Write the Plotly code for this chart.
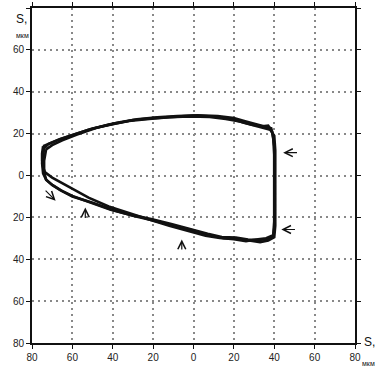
import plotly.graph_objects as go

# Loop traces (S_x, S_y in мкм), three overlapping cycles
loop_a_x = [-74, -72, -66, -60, -50, -40, -30, -20, -10, 0, 10, 18, 25, 30, 35, 38, 40, 40.5, 40.5, 40.5, 40.5, 40, 37, 33, 28, 22, 15, 8, 0, -10, -20, -30, -40, -50, -60, -65, -70, -73, -74.5, -75, -74.5, -74]
loop_a_y = [13, 15, 17.5, 19.5, 22.5, 24.5, 26.5, 27.4, 28, 28.6, 28.2, 27.2, 25.2, 24, 22.8, 21.8, 19, 12, 0, -12, -24, -29.5, -31, -31.8, -31.2, -30.2, -30, -28.5, -26.3, -23.8, -21.5, -19.2, -16.5, -13, -10, -7.5, -4.5, -2, 1, 6, 10, 13]

loop_b_x = [-73, -70, -65, -58, -48, -38, -28, -18, -8, 2, 12, 20, 26, 31, 35.5, 38.5, 39.5, 40, 40, 40, 40, 39.5, 36, 32, 27, 21, 14, 7, -1, -11, -21, -31, -41, -51, -60, -66, -70, -73, -74, -74, -73.5, -73]
loop_b_y = [12.5, 14.5, 16.8, 19.5, 22.8, 25.2, 26.8, 27.8, 28.4, 28.8, 28.4, 27.4, 25.8, 24.4, 23.2, 22.6, 18, 10, -2, -14, -25, -29, -30.4, -30.8, -30.6, -29.6, -29.4, -27.8, -25.6, -23.2, -20.8, -18.8, -16.4, -12.8, -9.8, -7, -4.5, -2, 1.5, 7, 10.5, 12.5]

loop_c_x = [-74.5, -71, -67, -61, -52, -42, -32, -22, -12, -2, 8, 16, 23, 29, 34, 37, 39, 40, 40, 40, 40, 39.5, 36, 31, 26, 20, 13, 6, -2, -12, -22, -32, -42, -52, -60, -66, -70, -73.5, -74.5, -75, -75, -74.5]
loop_c_y = [14, 15.5, 17, 19, 21.8, 24.3, 26, 27, 27.8, 28.2, 28, 27, 25.8, 24.2, 23.5, 23.8, 21, 14, 2, -10, -22, -28.5, -30, -30.6, -31.4, -30.4, -29.8, -28.8, -26.8, -24, -21, -18, -14.8, -10.6, -6.4, -3.4, -1, 1.5, 4, 7, 10.5, 14]

# Tick labels as printed
tick_vals = [-80, -60, -40, -20, 0, 20, 40, 60, 80]
x_tick_text = ["80", "60", "40", "20", "0", "20", "40", "60", "80"]
y_tick_text = ["80", "60", "40", "20", "0", "20", "40", "60", ""]

# Direction arrows (head x, head y, tail x, tail y)
arrows = [
    (-68.3, -12.0, -74.0, -6.5),
    (-53.6, -15.3, -53.6, -21.0),
    (-5.8, -30.6, -5.8, -36.0),
    (44.4, 10.9, 52.0, 10.9),
    (43.5, -25.8, 51.0, -25.8),
]

fig = go.Figure()
for lx, ly in [(loop_a_x, loop_a_y), (loop_b_x, loop_b_y), (loop_c_x, loop_c_y)]:
    fig.add_trace(go.Scatter(x=lx, y=ly, mode="lines",
                             line=dict(color="#111111", width=2.6),
                             showlegend=False, hoverinfo="skip"))

for hx, hy, tx, ty in arrows:
    fig.add_annotation(x=hx, y=hy, ax=tx, ay=ty, xref="x", yref="y",
                       axref="x", ayref="y", text="", showarrow=True,
                       arrowhead=5, arrowsize=1.3, arrowwidth=1.2,
                       arrowcolor="#111111")

axis_common = dict(
    range=[-80, 80], tickvals=tick_vals, showgrid=True,
    gridcolor="#888888", griddash="1.5px,4.5px", gridwidth=1.5,
    zeroline=False, showline=True, linecolor="#111111", linewidth=2,
    mirror="allticks", ticks="outside", ticklen=4, tickcolor="#111111",
    tickfont=dict(family="Liberation Sans, Arial", size=10, color="#222222"),
    fixedrange=True,
)
fig.update_xaxes(**axis_common, ticktext=x_tick_text)
fig.update_yaxes(**axis_common, ticktext=y_tick_text)

fig.add_annotation(x=-0.053, y=0.99, xref="paper", yref="paper", text="S,",
                   showarrow=False, borderpad=0,
                   font=dict(family="Liberation Sans, Arial", size=12, color="#111"))
fig.add_annotation(x=-0.053, y=0.93, xref="paper", yref="paper", text="мкм",
                   showarrow=False, borderpad=0,
                   font=dict(family="Liberation Sans, Arial", size=7, color="#111"))
fig.add_annotation(x=1.065, y=-0.022, xref="paper", yref="paper", text="S,",
                   showarrow=False, borderpad=0,
                   font=dict(family="Liberation Sans, Arial", size=12, color="#111"))
fig.add_annotation(x=1.065, y=-0.075, xref="paper", yref="paper", text="мкм",
                   showarrow=False, borderpad=0,
                   font=dict(family="Liberation Sans, Arial", size=7, color="#111"))

fig.update_layout(
    width=388, height=379,
    margin=dict(l=32, r=33, t=2, b=36),
    paper_bgcolor="white", plot_bgcolor="white",
)
fig.write_html("out.html")
